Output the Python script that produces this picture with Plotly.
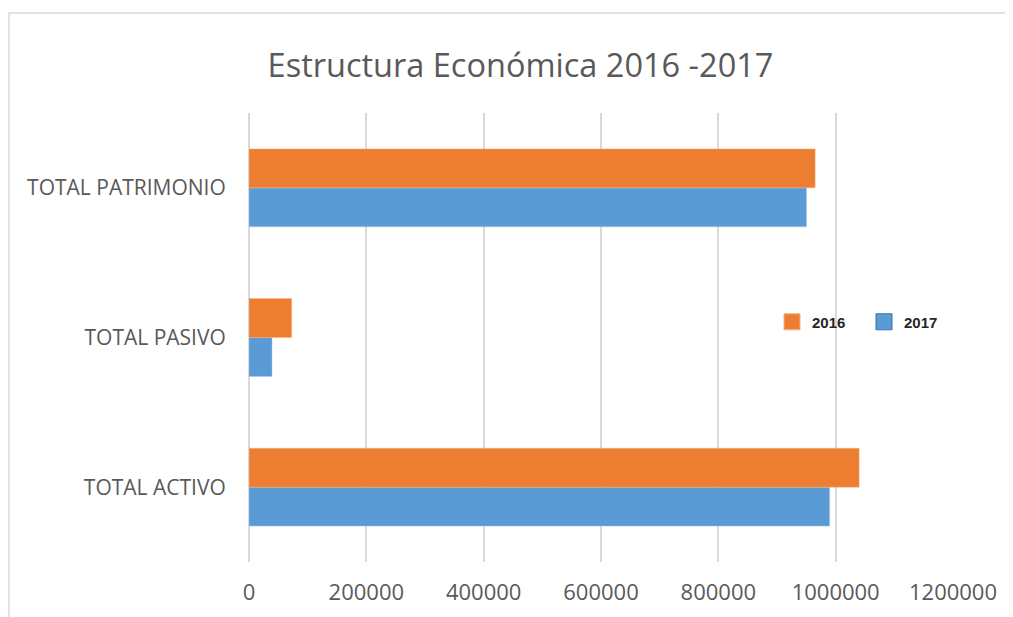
import plotly.graph_objects as go

categories = ["TOTAL ACTIVO", "TOTAL PASIVO", "TOTAL PATRIMONIO"]
values_2016 = [1040000, 72700, 965000]
values_2017 = [989600, 39200, 950200]
x_ticks = [0, 200000, 400000, 600000, 800000, 1000000, 1200000]

ORANGE, BLUE = "#ED7D31", "#5B9BD5"

fig = go.Figure()
fig.add_trace(go.Bar(y=categories, x=values_2017, orientation="h", name="2017", showlegend=False,
                     marker=dict(color=BLUE, line=dict(color="#9DC3E6", width=0.5))))
fig.add_trace(go.Bar(y=categories, x=values_2016, orientation="h", name="2016", showlegend=False,
                     marker=dict(color=ORANGE, line=dict(color="#F4B183", width=0.5))))
# legend entries with larger square swatches
fig.add_trace(go.Scatter(x=[None], y=[None], mode="markers", name="2017",
                         marker=dict(symbol="square", size=16, color=BLUE,
                                     line=dict(color="#41719C", width=1))))
fig.add_trace(go.Scatter(x=[None], y=[None], mode="markers", name="2016",
                         marker=dict(symbol="square", size=16, color=ORANGE,
                                     line=dict(color="#F4B183", width=1))))

OFF = 8  # page body margin
W, H = 1013, 617
# plot area in screen pixels
X0, X1, Y0, Y1 = 249, 953, 113, 562
L, T = X0 - OFF, Y0 - OFF
R, B = W - (X1 - OFF), H - (Y1 - OFF)
pw, ph = X1 - X0, Y1 - Y0

def px(x):
    return (x - X0) / pw

def py(y):
    return (Y1 - y) / ph

fig.update_layout(
    width=W, height=H,
    margin=dict(l=L, r=R, t=T, b=B, autoexpand=False),
    paper_bgcolor="white", plot_bgcolor="white",
    barmode="group", bargap=0.48, bargroupgap=0,
    title=dict(text="Estructura Económica 2016 -2017", x=(520.5 - OFF) / W, xanchor="center",
               y=1 - (66 - OFF) / H, yanchor="middle",
               font=dict(family="Open Sans", size=32.5, color="#595959")),
    font=dict(family="Open Sans", color="#595959"),
    xaxis=dict(range=[0, 1200000], tickvals=x_ticks, ticktext=[str(v) for v in x_ticks],
               showgrid=True, gridcolor="#D9D9D9", gridwidth=1.5,
               zeroline=True, zerolinecolor="#D9D9D9", zerolinewidth=1.5,
               showline=False, ticks="outside", ticklen=11, tickcolor="rgba(0,0,0,0)",
               tickfont=dict(size=22, color="#595959"), automargin=False),
    yaxis=dict(showgrid=False, zeroline=False, showline=False, ticks="outside", ticklen=18,
               tickcolor="rgba(0,0,0,0)", tickfont=dict(size=21, color="#595959"),
               automargin=False),
    legend=dict(orientation="h", traceorder="reversed", x=px(772), xanchor="left",
                y=py(322), yanchor="middle", bgcolor="rgba(0,0,0,0)",
                font=dict(family="Liberation Sans Narrow, Liberation Sans", size=15,
                          color="#262626", weight="bold"),
                entrywidth=47, entrywidthmode="pixels"),
    shapes=[dict(type="rect", xref="paper", yref="paper",
                 x0=px(9), x1=px(1040), y0=py(650), y1=py(13),
                 line=dict(color="#D9D9D9", width=1.5), layer="below")],
)

fig.write_html("out.html")
